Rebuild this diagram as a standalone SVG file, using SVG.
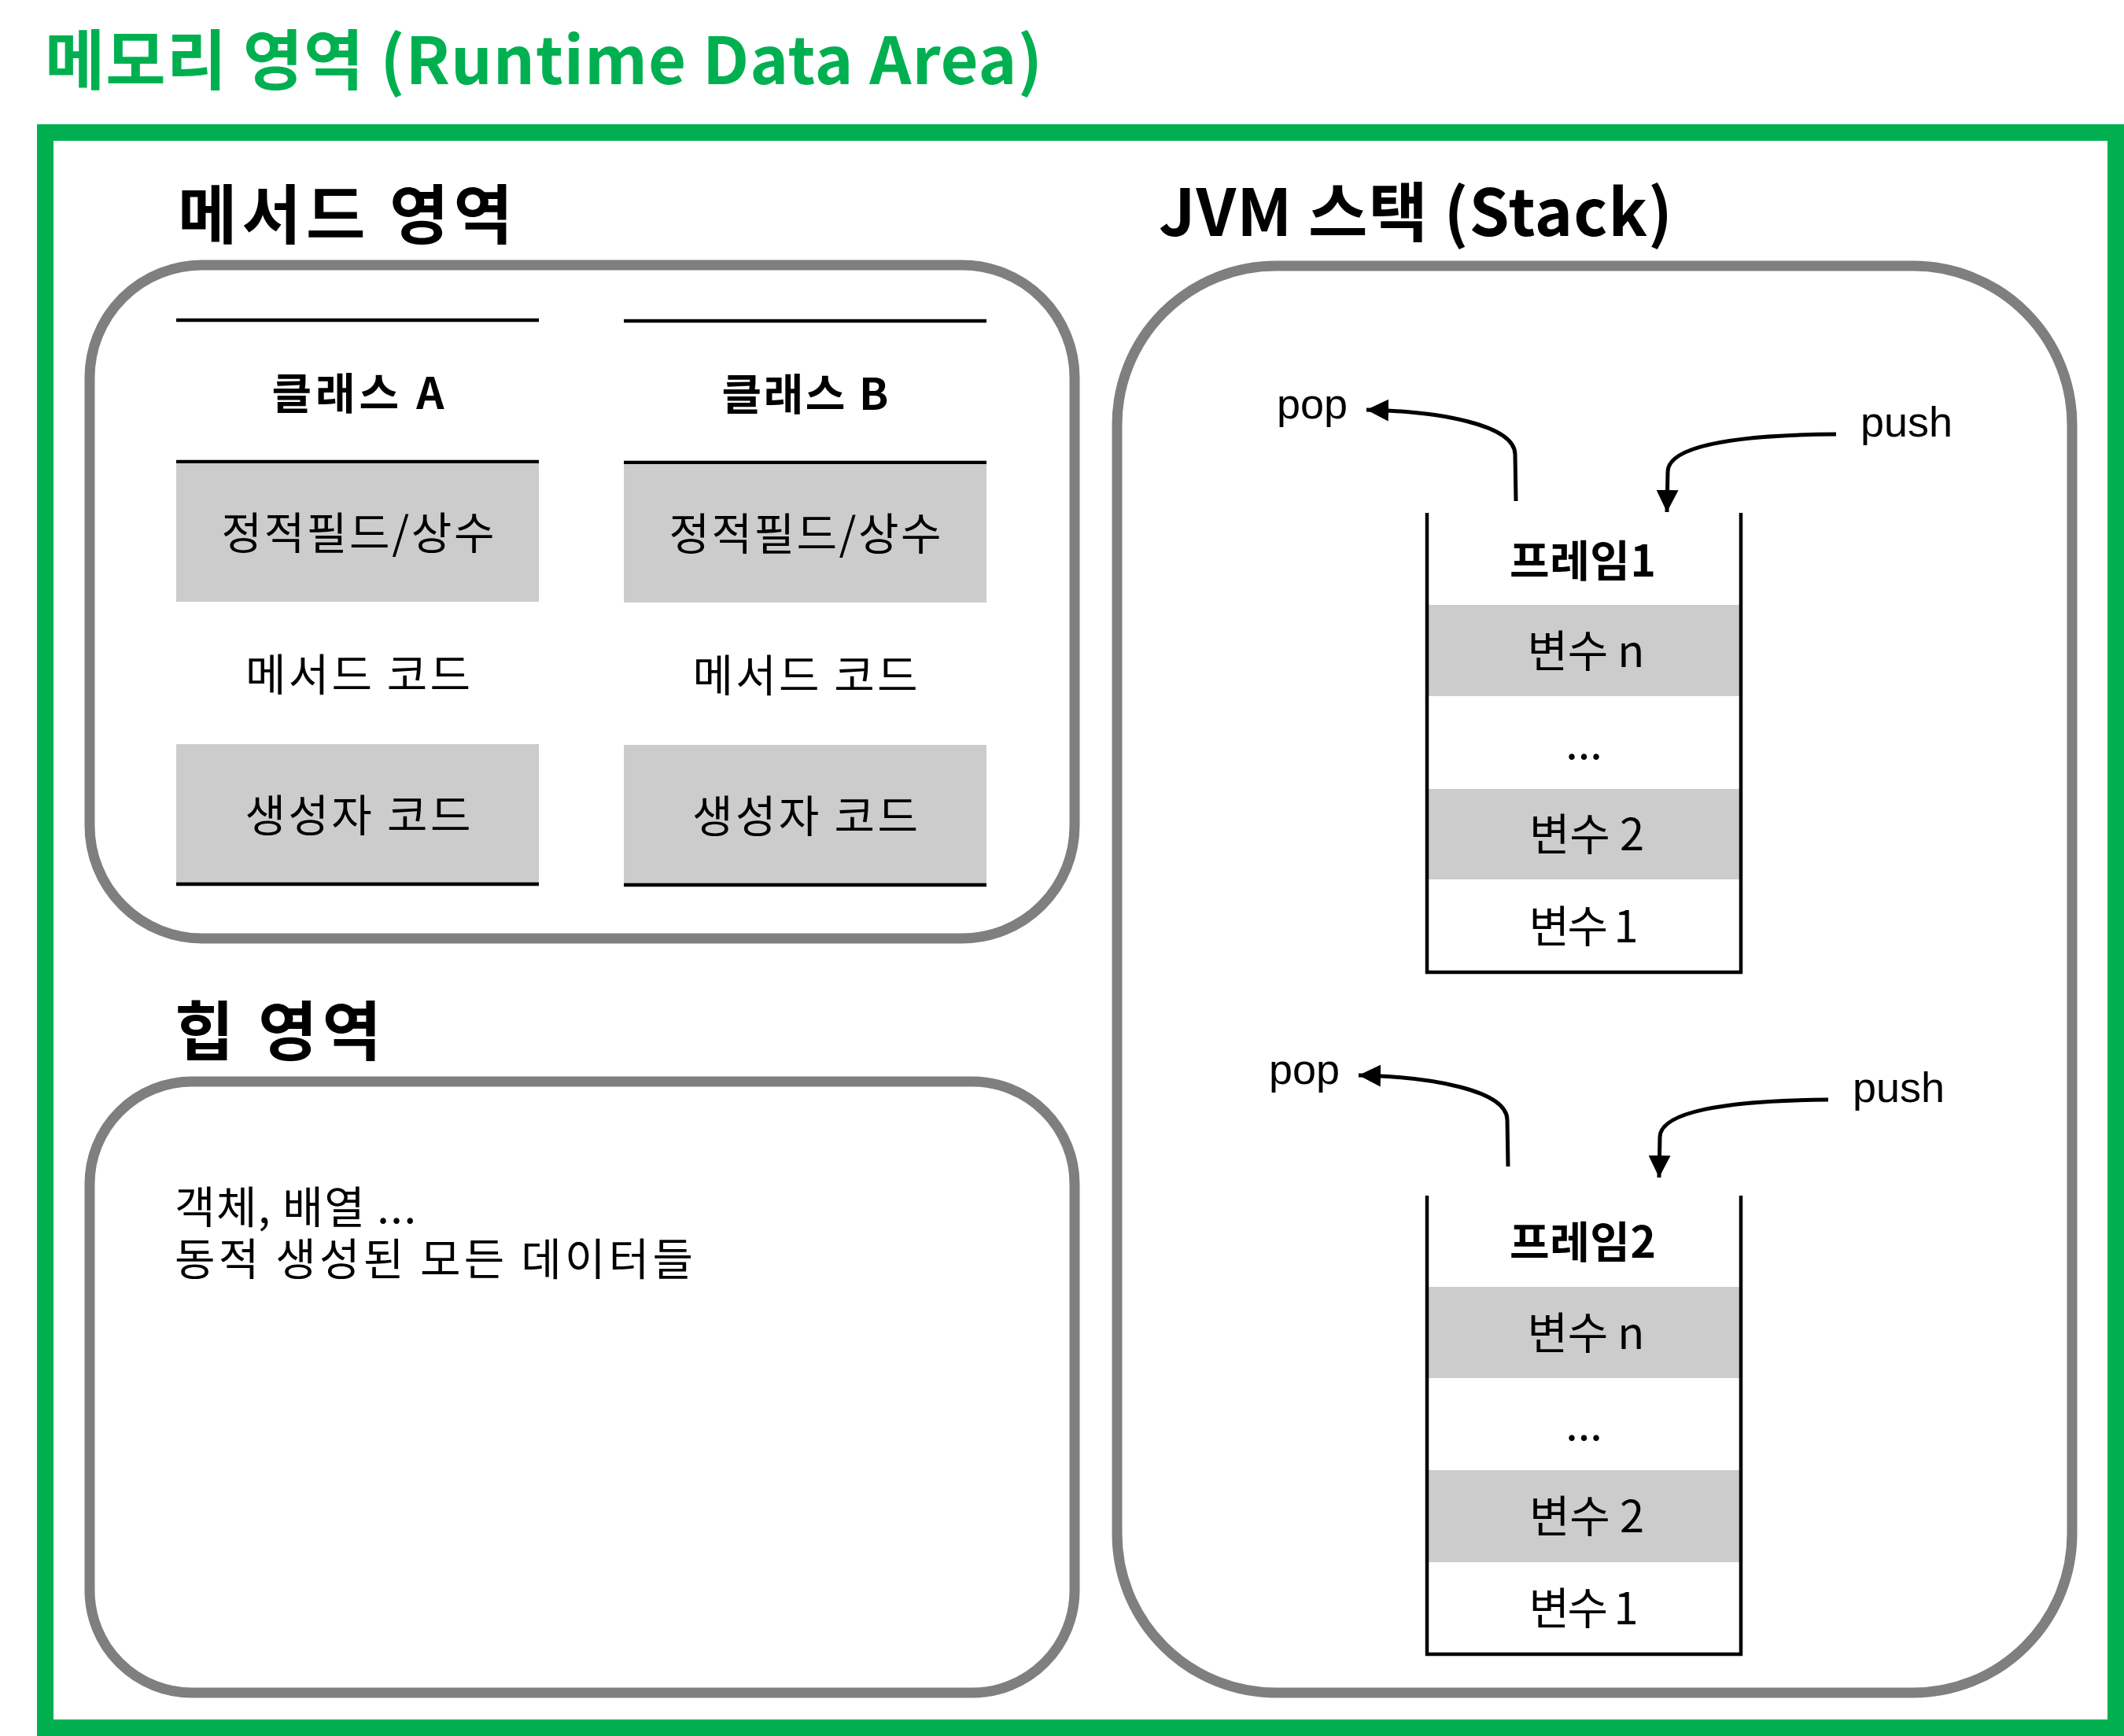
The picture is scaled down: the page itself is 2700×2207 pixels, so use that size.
<svg xmlns="http://www.w3.org/2000/svg" width="2700" height="2207" viewBox="0 0 2700 2207">
  <style>
    .kr { font-family: "Noto Sans CJK KR", "Liberation Sans", sans-serif; fill: #000; }
    .lat { font-family: "Liberation Sans", Arial, sans-serif; fill: #000; font-size: 54px; }
    .hd { font-weight: bold; font-size: 82px; }
    .lbl { font-weight: bold; font-size: 55px; text-anchor: middle; }
    .body { font-size: 56px; text-anchor: middle; }
    .area { fill: #fff; stroke: #7F7F7F; stroke-width: 13; }
    .bar { fill: #CCCCCC; stroke: none; }
    .rule { stroke: #000; stroke-width: 4.5; fill: none; }
    .arr { stroke: #000; stroke-width: 5; fill: none; marker-end: url(#ah); }
  </style>
  <defs>
    <marker id="ah" markerUnits="userSpaceOnUse" markerWidth="30" markerHeight="28" refX="28" refY="14" orient="auto">
      <path d="M0,0 L28,14 L0,28 z" fill="#000"/>
    </marker>
  </defs>

  <rect width="2700" height="2207" fill="#fff"/>

  <g id="title">
    <text class="kr" x="57" y="107" font-size="83" font-weight="bold" style="fill:#00B050" textLength="1268">메모리 영역 (Runtime Data Area)</text>
  </g>

  <g id="runtime-data-area">
    <rect x="57.5" y="168.5" width="2632" height="2028" fill="none" stroke="#00B050" stroke-width="21"/>
  </g>

  <g id="method-area">
    <text class="kr hd" x="226" y="303" textLength="426">메서드 영역</text>
    <rect class="area" x="114" y="337" width="1252" height="856" rx="143" ry="143"/>
  </g>

  <g id="class-a">
    <line class="rule" x1="224" y1="407" x2="685" y2="407"/>
    <text class="kr lbl" x="455" y="520" textLength="219">클래스 A</text>
    <line class="rule" x1="224" y1="587" x2="685" y2="587"/>
    <rect class="bar" x="224" y="589" width="461" height="176"/>
    <text class="kr body" x="455" y="698" textLength="347">정적필드/상수</text>
    <text class="kr body" x="455" y="878" textLength="286">메서드 코드</text>
    <rect class="bar" x="224" y="946" width="461" height="176"/>
    <text class="kr body" x="455" y="1057" textLength="287">생성자 코드</text>
    <line class="rule" x1="224" y1="1124" x2="685" y2="1124"/>
  </g>

  <g id="class-b">
    <line class="rule" x1="793" y1="408" x2="1254" y2="408"/>
    <text class="kr lbl" x="1023.5" y="521" textLength="212">클래스 B</text>
    <line class="rule" x1="793" y1="588" x2="1254" y2="588"/>
    <rect class="bar" x="793" y="590" width="461" height="176"/>
    <text class="kr body" x="1023.5" y="699" textLength="346">정적필드/상수</text>
    <text class="kr body" x="1023.5" y="879" textLength="286">메서드 코드</text>
    <rect class="bar" x="793" y="947" width="461" height="176"/>
    <text class="kr body" x="1023.5" y="1058" textLength="287">생성자 코드</text>
    <line class="rule" x1="793" y1="1125" x2="1254" y2="1125"/>
  </g>

  <g id="heap-area">
    <text class="kr hd" x="222" y="1341" textLength="263">힙 영역</text>
    <rect class="area" x="114" y="1375" width="1252" height="777" rx="130" ry="130"/>
    <text class="kr" font-size="56" x="222" y="1555" textLength="307">객체, 배열 ...</text>
    <text class="kr" font-size="56" x="222" y="1621" textLength="659">동적 생성된 모든 데이터들</text>
  </g>

  <g id="jvm-stack">
    <text class="kr hd" x="1473" y="300" textLength="653">JVM 스택 (Stack)</text>
    <rect class="area" x="1420" y="338" width="1214" height="1814" rx="202" ry="202"/>
  </g>

  <g id="frame-1">
    <rect class="bar" x="1814" y="769" width="399" height="116"/>
    <rect class="bar" x="1814" y="1003" width="399" height="115"/>
    <polyline class="rule" points="1814,652 1814,1236 2213,1236 2213,652"/>
    <text class="kr lbl" x="2012" y="733" textLength="186">프레임1</text>
    <text class="kr body" x="2016" y="848" textLength="149">변수 n</text>
    <text class="kr body" x="2013.5" y="965">...</text>
    <text class="kr body" x="2017" y="1081" textLength="146">변수 2</text>
    <text class="kr body" x="2013" y="1198" textLength="139">변수 1</text>
  </g>

  <g id="frame-2">
    <rect class="bar" x="1814" y="1636" width="399" height="116"/>
    <rect class="bar" x="1814" y="1869" width="399" height="117"/>
    <polyline class="rule" points="1814,1520 1814,2103 2213,2103 2213,1520"/>
    <text class="kr lbl" x="2012" y="1599" textLength="186">프레임2</text>
    <text class="kr body" x="2016" y="1715" textLength="149">변수 n</text>
    <text class="kr body" x="2013.5" y="1831">...</text>
    <text class="kr body" x="2017" y="1948" textLength="146">변수 2</text>
    <text class="kr body" x="2013" y="2065" textLength="139">변수 1</text>
  </g>

  <g id="labels">
    <text class="lat" x="1623" y="532">pop</text>
    <text class="lat" x="2365" y="555">push</text>
    <text class="lat" x="1613" y="1378">pop</text>
    <text class="lat" x="2355" y="1401">push</text>
  </g>

  <g id="connectors">
    <path class="arr" d="M1927,637 L1926,578 C1926,540 1830,523 1737,521"/>
    <path class="arr" d="M2334,552 C2200,553 2120,568 2120,600 L2119,651"/>
    <g transform="translate(-10,846)">
      <path class="arr" d="M1927,637 L1926,578 C1926,540 1830,523 1737,521"/>
      <path class="arr" d="M2334,552 C2200,553 2120,568 2120,600 L2119,651"/>
    </g>
  </g>
</svg>
